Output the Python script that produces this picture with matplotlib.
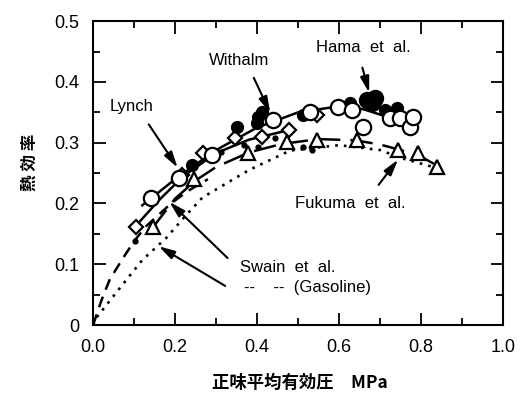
import matplotlib.pyplot as plt
import numpy as np

plt.rcParams['font.family'] = ['Liberation Sans', 'Noto Sans CJK JP', 'DejaVu Sans']

# open circles
circ_x = [0.142, 0.210, 0.289, 0.438, 0.528, 0.597, 0.631, 0.658, 0.724, 0.748, 0.773, 0.780]
circ_y = [0.209, 0.242, 0.280, 0.337, 0.350, 0.359, 0.354, 0.326, 0.340, 0.340, 0.326, 0.342]

# filled circles (Withalm etc.)
fill_x = [0.242, 0.350, 0.399, 0.401, 0.413, 0.511, 0.626, 0.711, 0.741]
fill_y = [0.263, 0.326, 0.332, 0.342, 0.350, 0.345, 0.365, 0.354, 0.357]

# big filled circles (Hama et al.)
hama_x = [0.667, 0.680, 0.687]
hama_y = [0.370, 0.365, 0.373]

# diamonds (Lynch)
dia_x = [0.105, 0.218, 0.267, 0.345, 0.413, 0.479, 0.545]
dia_y = [0.161, 0.247, 0.283, 0.308, 0.309, 0.321, 0.345]

# triangles (Fukuma et al.)
tri_x = [0.147, 0.247, 0.377, 0.472, 0.545, 0.643, 0.743, 0.792, 0.839]
tri_y = [0.161, 0.240, 0.283, 0.301, 0.304, 0.304, 0.288, 0.283, 0.260]

# small dots (Swain et al.)
dot_x = [0.103, 0.313, 0.369, 0.401, 0.443, 0.511, 0.535]
dot_y = [0.138, 0.285, 0.296, 0.293, 0.308, 0.293, 0.288]

# fitted curves
upper_x = [0.12, 0.20, 0.30, 0.40, 0.50, 0.60, 0.66, 0.72]
upper_y = [0.197, 0.240, 0.288, 0.325, 0.350, 0.360, 0.355, 0.342]

lynch_x = [0.10, 0.16, 0.22, 0.30, 0.38, 0.46]
lynch_y = [0.160, 0.205, 0.245, 0.283, 0.305, 0.318]

fuk_x = [0.145, 0.20, 0.25, 0.30, 0.38, 0.46, 0.55, 0.64, 0.70, 0.75, 0.80, 0.84]
fuk_y = [0.160, 0.208, 0.238, 0.260, 0.284, 0.298, 0.306, 0.304, 0.297, 0.288, 0.277, 0.262]

swain_x = [0.0, 0.02, 0.04, 0.07, 0.10, 0.13, 0.19, 0.23, 0.28]
swain_y = [0.0, 0.040, 0.074, 0.107, 0.138, 0.163, 0.200, 0.220, 0.240]

gas_x = [0.0, 0.007, 0.056, 0.12, 0.178, 0.227, 0.267, 0.38, 0.48, 0.60, 0.70, 0.75, 0.83]
gas_y = [0.0, 0.011, 0.053, 0.107, 0.143, 0.181, 0.210, 0.255, 0.287, 0.296, 0.288, 0.275, 0.260]

fig = plt.figure(figsize=(5.23, 3.93), dpi=100)
ax = fig.add_axes([0.178, 0.173, 0.784, 0.773])

# curves
ax.plot(upper_x, upper_y, color='black', lw=1.8, zorder=2)
ax.plot(lynch_x, lynch_y, color='black', lw=1.8, zorder=2)
ax.plot(fuk_x, fuk_y, color='black', lw=1.8, dashes=(9, 4), zorder=2)
ax.plot(swain_x, swain_y, color='black', lw=1.8, dashes=(4.5, 3), zorder=2)
ax.plot(gas_x, gas_y, color='black', lw=1.9, dashes=(1, 2.3), zorder=2)

# markers
ax.plot(dot_x, dot_y, 'o', color='black', ms=3.5, zorder=3)
ax.plot(tri_x, tri_y, '^', mfc='white', mec='black', mew=1.6, ms=10.5, ls='none', zorder=4)
ax.plot(dia_x, dia_y, 'D', mfc='white', mec='black', mew=1.6, ms=7.5, ls='none', zorder=4)
ax.plot(fill_x, fill_y, 'o', color='black', ms=8.5, ls='none', zorder=4)
ax.plot(circ_x, circ_y, 'o', mfc='white', mec='black', mew=1.6, ms=11, ls='none', zorder=5)
ax.plot(hama_x, hama_y, 'o', color='black', ms=11.5, ls='none', zorder=6)

# labels with arrows
arr = dict(arrowstyle='-|>,head_length=0.8,head_width=0.22', color='black', lw=1.5, mutation_scale=12)
fs = 12
ax.text(0.357, 0.436, 'Withalm', ha='center', va='center', fontsize=fs)
ax.annotate('', xy=(0.435, 0.345), xytext=(0.389, 0.411), arrowprops=arr)
ax.text(0.095, 0.359, 'Lynch', ha='center', va='center', fontsize=fs)
ax.annotate('', xy=(0.210, 0.255), xytext=(0.132, 0.334), arrowprops=arr)
ax.text(0.658, 0.456, 'Hama  et  al.', ha='center', va='center', fontsize=fs)
ax.annotate('', xy=(0.675, 0.378), xytext=(0.655, 0.428), arrowprops=arr)
ax.text(0.626, 0.200, 'Fukuma  et  al.', ha='center', va='center', fontsize=fs)
ax.annotate('', xy=(0.748, 0.276), xytext=(0.692, 0.227), arrowprops=arr)
ax.text(0.358, 0.095, 'Swain  et  al.', ha='left', va='center', fontsize=fs)
ax.annotate('', xy=(0.181, 0.206), xytext=(0.333, 0.107), arrowprops=arr)
ax.text(0.369, 0.062, '--    --  (Gasoline)', ha='left', va='center', fontsize=fs)
ax.annotate('', xy=(0.154, 0.132), xytext=(0.328, 0.062), arrowprops=arr)

ax.set_xlim(0, 1.0)
ax.set_ylim(0, 0.5)
ax.set_xticks(np.arange(0, 1.01, 0.2))
ax.set_xticks(np.arange(0, 1.01, 0.1), minor=True)
ax.set_yticks(np.arange(0, 0.51, 0.1))
ax.set_yticks(np.arange(0, 0.51, 0.05), minor=True)
ax.set_xticklabels(['0.0', '0.2', '0.4', '0.6', '0.8', '1.0'])
ax.set_yticklabels(['0', '0.1', '0.2', '0.3', '0.4', '0.5'])
ax.tick_params(which='both', direction='in', top=True, right=True, width=1.3)
ax.tick_params(which='major', length=9, labelsize=13, pad=10)
ax.tick_params(which='minor', length=5)
for s in ax.spines.values():
    s.set_linewidth(1.5)

fig.text(300/523, 1-383/393, '正味平均有効圧　MPa', ha='center', va='center',
         fontsize=12.5, family=['Noto Sans CJK JP', 'DejaVu Sans'], weight='bold')
fig.text(30/523, 1-162/393, '熱 効 率', ha='center', va='center', rotation=90,
         fontsize=12, family=['Noto Sans CJK JP', 'DejaVu Sans'], weight='bold')

fig.savefig('out.png', dpi=100)
